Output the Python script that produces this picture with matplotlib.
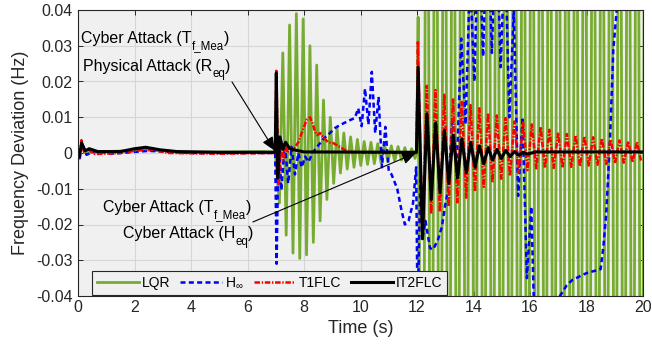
import numpy as np
import matplotlib
matplotlib.use("Agg")
import matplotlib.pyplot as plt

plt.rcParams['font.family'] = ['Liberation Sans', 'DejaVu Sans']
plt.rcParams['axes.unicode_minus'] = False
plt.rcParams['lines.scale_dashes'] = False
plt.rcParams['mathtext.fontset'] = 'custom'
plt.rcParams['mathtext.rm'] = 'Liberation Sans'
plt.rcParams['mathtext.it'] = 'Liberation Sans'

# ---- LQR ----
lqr_pre_t = [0, 0.05, 0.15, 0.3, 1.0, 2.4, 4.0, 6.5, 6.98]
lqr_pre_v = [0, -0.001, 0.002, 0.0, 0.0004, 0.0008, 0.0002, 0.0004, 0.0003]
lqr_osc1_start, lqr_osc1_step = 7.13, 0.12
lqr_osc1_v = [-0.014, 0.028, -0.023, 0.0358, -0.028, 0.039, -0.0295, 0.0375, -0.0285, 0.030,
              -0.025, 0.0246, -0.019, 0.0148, -0.013, 0.010, -0.0085, 0.007, -0.0056, 0.0056,
              -0.0045, 0.0045, -0.004, 0.0038, -0.0035, 0.0032, -0.0032, 0.003, -0.003, 0.0026,
              -0.0028, 0.0024, -0.0025, 0.002, -0.0022, 0.0018, -0.002, 0.0015, -0.0018, 0.0012,
              -0.0015]
lqr_osc2_start, lqr_osc2_step = 12.04, 0.155
lqr_osc2_v = [0.038] + [-0.2, 0.2] * 26

# ---- H-infinity ----
hinf_pre_t = [0, 0.05, 0.15, 0.3, 0.6, 1.2, 2.5, 4.0, 6.98]
hinf_pre_v = [0, -0.002, 0.0025, -0.0005, 0.0005, -0.0002, 0.0006, 0.0, 0.0]
hinf_att1_t = [7.03, 7.1, 7.2, 7.32, 7.44, 7.56, 7.68, 7.8, 7.92, 8.04, 8.16, 8.3, 8.46,
               8.7, 8.92, 9.1, 9.27, 9.45, 9.63, 9.8]
hinf_att1_v = [-0.031, 0.0045, -0.0104, 0.003, -0.0085, 0.0017, -0.006, 0.0, -0.004, -0.001,
               -0.0025, 0.0, 0.0017, 0.004, 0.0056, 0.007, 0.0078, 0.0085, 0.0092, 0.0098]
hinf_hump_start, hinf_hump_step = 9.92, 0.12
hinf_hump_v = [0.0125, 0.0075, 0.018, 0.008, 0.0227, 0.0056, 0.0157, -0.004, 0.0073, -0.005]
hinf_dip_t = [11.1, 11.3, 11.45, 11.57, 11.7, 11.86, 11.97,
              12.02, 12.12, 12.2, 12.3, 12.46, 12.57, 12.74, 12.88, 12.99]
hinf_dip_v = [-0.006, -0.010, -0.016, -0.020, -0.019, -0.014, -0.004,
              -0.045, -0.0075, -0.0235, -0.019, -0.0266, -0.027, -0.0243, -0.0207, -0.015]
hinf_osc_start, hinf_osc_step = 13.1, 0.155
hinf_osc_v = [-0.0103, 0.01, -0.004, 0.032, 0.008, 0.05, 0.02, 0.065, 0.027, 0.07, 0.028,
              0.068, 0.024, 0.058, 0.01, 0.04, -0.012, 0.01, -0.035, -0.015, -0.06, -0.05,
              -0.065]
hinf_tail_t = [16.8, 17.06, 17.3, 17.5, 18.0, 18.5, 18.6, 18.7, 18.83, 18.95, 19.07, 19.3, 20.0]
hinf_tail_v = [-0.055, -0.04, -0.037, -0.0355, -0.0336, -0.0325, -0.026, -0.0168, 0.0036,
               0.029, 0.04, 0.08, 0.15]

# ---- T1FLC ----
t1_pre_t = [0, 0.04, 0.12, 0.22, 0.35, 0.6, 1.5, 2.2, 2.6, 3.2, 5.0, 6.98]
t1_pre_v = [0, -0.0015, 0.0036, 0.0002, 0.001, -0.0003, 0.0, 0.0008, 0.001, 0.0, -0.0002, 0.0]
t1_att1_t = [7.02, 7.1, 7.18, 7.26, 7.34, 7.42, 7.5, 7.6, 7.68, 7.8, 7.92, 8.09, 8.21, 8.3,
             8.39, 8.47, 8.57, 8.68, 8.85, 9.03, 9.27, 9.45, 9.63, 10.0, 11.98]
t1_att1_v = [0.023, -0.009, 0.0035, -0.002, 0.003, 0.0, 0.0015, 0.001, 0.0017, 0.003, 0.0056,
             0.0092, 0.010, 0.0084, 0.006, 0.005, 0.0056, 0.0045, 0.003, 0.0028, 0.0017,
             0.0008, 0.0003, 0.0001, 0.0]
t1_spike_t, t1_spike_v = 12.03, 0.031
t1_osc_start, t1_osc_step = 12.19, 0.155
t1_bottoms = [-0.024, -0.017, -0.0165, -0.015, -0.0138, -0.0125, -0.0108, -0.0095, -0.0082,
              -0.0072, -0.0064, -0.0054, -0.0048, -0.0043, -0.0042, -0.0042, -0.0041, -0.0039,
              -0.0037, -0.0035, -0.0033, -0.0031, -0.0029, -0.0027, -0.0026, -0.0025]
t1_tops = [0.0188, 0.0176, 0.0163, 0.015, 0.0143, 0.0134, 0.0125, 0.0112, 0.0105, 0.0098,
           0.0088, 0.0085, 0.008, 0.0073, 0.0065, 0.0057, 0.0053, 0.005, 0.0047, 0.0044,
           0.0041, 0.0038, 0.0035, 0.0033, 0.0031]

# ---- IT2FLC ----
it2_pre_t = [0, 0.04, 0.13, 0.25, 0.4, 0.7, 1.5, 2.0, 2.4, 2.9, 3.5, 5.0, 6.98]
it2_pre_v = [0, -0.0012, 0.0028, 0.0006, 0.0012, 0.0004, 0.0004, 0.0012, 0.0016, 0.0009,
             0.0004, 0.0002, 0.0002]
it2_att1_t = [7.02, 7.07, 7.15, 7.25, 7.35, 7.5, 7.7, 8.0, 11.98]
it2_att1_v = [0.0224, -0.007, 0.0045, 0.001, 0.003, 0.0012, 0.0008, 0.0003, 0.0002]
it2_osc_start, it2_osc_step = 12.04, 0.155
it2_osc_v = [0.024, -0.024, 0.011, -0.013, 0.0084, -0.011, 0.0064, -0.0085, 0.005, -0.007,
             0.004, -0.0055, 0.003, -0.004, 0.002, -0.003, 0.0015, -0.002, 0.001, -0.0015,
             0.0007, -0.001, 0.0004, -0.0006, 0.0002, -0.0003]
it2_tail_t = [16.2, 20.0]
it2_tail_v = [0.0003, 0.0003]

legend_labels = ['LQR', r'H$_{\infty}$', 'T1FLC', 'IT2FLC']


def osc(start, step, vals):
    return list(start + step * np.arange(len(vals))), list(vals)


def join(*parts):
    tt, vv = [], []
    for a, b in parts:
        tt += list(a)
        vv += list(b)
    return np.array(tt), np.array(vv)


lqr_t, lqr_v = join((lqr_pre_t, lqr_pre_v),
                    osc(lqr_osc1_start, lqr_osc1_step, lqr_osc1_v),
                    ([11.99], [0.0]),
                    osc(lqr_osc2_start, lqr_osc2_step, lqr_osc2_v))

hinf_t, hinf_v = join((hinf_pre_t, hinf_pre_v), (hinf_att1_t, hinf_att1_v),
                      osc(hinf_hump_start, hinf_hump_step, hinf_hump_v),
                      (hinf_dip_t, hinf_dip_v),
                      osc(hinf_osc_start, hinf_osc_step, hinf_osc_v),
                      (hinf_tail_t, hinf_tail_v))

t1_mix = []
for i in range(len(t1_bottoms)):
    t1_mix.append(t1_bottoms[i])
    if i < len(t1_tops):
        t1_mix.append(t1_tops[i])
t1_t, t1_v = join((t1_pre_t, t1_pre_v), (t1_att1_t, t1_att1_v),
                  ([t1_spike_t], [t1_spike_v]),
                  osc(t1_osc_start, t1_osc_step, t1_mix))

it2_t, it2_v = join((it2_pre_t, it2_pre_v), (it2_att1_t, it2_att1_v),
                    osc(it2_osc_start, it2_osc_step, it2_osc_v),
                    (it2_tail_t, it2_tail_v))

fig = plt.figure(figsize=(6.52, 3.45), dpi=100)
ax = fig.add_axes([78 / 652, 1 - 296 / 345, 565 / 652, 286 / 345])
ax.set_facecolor('#f0f0f0')

ax.plot(lqr_t, lqr_v, color='#77ac30', lw=2.0, label=legend_labels[0])
ax.plot(hinf_t, hinf_v, color='#0000ff', lw=1.8, dashes=(3.6, 2.4), label=legend_labels[1])
ax.plot(t1_t, t1_v, color='#ff0000', lw=1.8, dashes=(4.0, 1.2, 1.0, 1.2), label=legend_labels[2])
ax.plot(it2_t, it2_v, color='k', lw=2.2, label=legend_labels[3])

ax.set_xlim(0, 20)
ax.set_ylim(-0.04, 0.04)
ax.set_xticks(np.arange(0, 21, 2))
ax.set_yticks(np.arange(-0.04, 0.041, 0.01))
ax.set_yticklabels(['-0.04', '-0.03', '-0.02', '-0.01', '0', '0.01', '0.02', '0.03', '0.04'])
ax.grid(True, color='#d6d6d6', lw=0.8)
ax.set_axisbelow(True)
ax.tick_params(direction='in', length=3.6, width=0.7, top=True, right=True,
               labelsize=11.5, colors='#262626')
ax.tick_params(axis='x', pad=3)
ax.tick_params(axis='y', pad=4)
for s in ax.spines.values():
    s.set_color('#262626')
    s.set_linewidth(0.8)

ax.set_xlabel('Time (s)', fontsize=13, color='#262626')
ax.set_ylabel('Frequency Deviation (Hz)', fontsize=13, color='#262626')
ax.xaxis.set_label_coords(0.5, -0.085)
ax.yaxis.set_label_coords(-0.087, 0.5)

renderer = fig.canvas.get_renderer()


def rich_text(x, y, parts):
    # parts: (string, fontsize, baseline shift in points); drawn left to right
    dx = 0.0
    for s, size, dy in parts:
        t = ax.annotate(s, xy=(x, y), xycoords='data', xytext=(dx, dy),
                        textcoords='offset points', fontsize=size, color='k',
                        ha='left', va='baseline')
        dx += t.get_window_extent(renderer).width * 72.0 / fig.dpi


main_fs, sub_fs, sub_dy = 11.5, 8.3, -4.8
rich_text(0.106, 0.0308, [('Cyber Attack (T', main_fs, 0), ('f_Mea', sub_fs, sub_dy),
                          (')', main_fs, 0)])
rich_text(0.177, 0.0230, [('Physical Attack (R', main_fs, 0), ('eq', sub_fs, sub_dy),
                          (')', main_fs, 0)])
rich_text(0.895, -0.0164, [('Cyber Attack (T', main_fs, 0), ('f_Mea', sub_fs, sub_dy),
                           (')', main_fs, 0)])
rich_text(1.604, -0.0239, [('Cyber Attack (H', main_fs, 0), ('eq', sub_fs, sub_dy),
                           (')', main_fs, 0)])

arrow = dict(arrowstyle='-|>,head_length=0.7,head_width=0.3', color='k', lw=0.8,
             mutation_scale=12, shrinkA=0, shrinkB=0)
ax.annotate('', xy=(6.97, 0.0006), xytext=(5.45, 0.0199), arrowprops=arrow)
ax.annotate('', xy=(11.96, 0.0), xytext=(6.19, -0.0193), arrowprops=arrow)

leg = ax.legend(loc='lower left', bbox_to_anchor=(0.0248, 0.0035), ncol=4, fontsize=10,
                handlelength=3.0, handletextpad=0.25, columnspacing=0.7, borderpad=0.35,
                borderaxespad=0, fancybox=False, framealpha=1, edgecolor='#262626',
                facecolor='#f0f0f0')
leg.get_frame().set_linewidth(0.8)

fig.savefig('out.png', dpi=100)
